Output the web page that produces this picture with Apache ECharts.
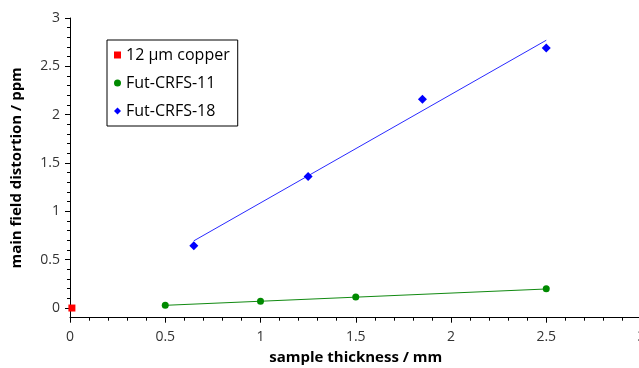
<!DOCTYPE html>
<html>
<head>
<meta charset="utf-8">
<script src="https://cdn.jsdelivr.net/npm/echarts@6/dist/echarts.min.js"></script>
<style>html,body{margin:0;padding:0;background:#fff;}#c{width:639px;height:368px;}</style>
</head>
<body>
<div id="c"></div>
<script>
// Data
const copperX = [0.01];
const copperY = [0.0];
const crfs11X = [0.5, 1.0, 1.5, 2.5];
const crfs11Y = [0.03, 0.07, 0.115, 0.2];
const crfs18X = [0.65, 1.25, 1.85, 2.5];
const crfs18Y = [0.645, 1.36, 2.16, 2.69];
const fit11X = [0.5, 2.5];
const fit11Y = [0.028, 0.197];
const fit18X = [0.65, 2.5];
const fit18Y = [0.695, 2.77];
const yMajorTicks = [0, 0.5, 1, 1.5, 2, 2.5, 3];
const yMinorTicks = [0.1,0.2,0.3,0.4,0.6,0.7,0.8,0.9,1.1,1.2,1.3,1.4,1.6,1.7,1.8,1.9,2.1,2.2,2.3,2.4,2.6,2.7,2.8,2.9];

const zip = (xs, ys) => xs.map((x, i) => [x, ys[i]]);
const FONT = '"Open Sans", "Noto Sans", sans-serif';

const chart = echarts.init(document.getElementById('c'), null, {renderer: 'canvas'});
chart.setOption({
  animation: false,
  backgroundColor: '#fff',
  textStyle: {fontFamily: FONT},
  grid: {left: 70, top: 18, right: -2.5, bottom: 50.3, containLabel: false, outerBoundsMode: 'none'},
  legend: {
    orient: 'vertical',
    left: 107, top: 40,
    padding: [7, 8, 7, 7],
    borderColor: '#000', borderWidth: 1,
    itemGap: 12,
    itemWidth: 7, itemHeight: 7,
    textStyle: {fontSize: 16, color: '#000', fontFamily: FONT},
    data: [
      {name: '12 µm copper', icon: 'rect', itemStyle: {color: '#ff0000'}},
      {name: 'Fut-CRFS-11', icon: 'circle', itemStyle: {color: '#008a00'}},
      {name: 'Fut-CRFS-18', icon: 'diamond', itemStyle: {color: '#0000ff'}}
    ]
  },
  xAxis: {
    type: 'value', min: 0, max: 3, interval: 0.5,
    axisLine: {onZero: false, lineStyle: {color: '#000', width: 1}},
    axisTick: {show: true, length: 5, inside: false, lineStyle: {color: '#000'}},
    minorTick: {show: true, splitNumber: 5, length: 3, lineStyle: {color: '#000'}},
    splitLine: {show: false},
    axisLabel: {fontSize: 14, color: '#333', margin: 12, fontFamily: FONT, showMaxLabel: true},
    name: 'sample thickness / mm', nameLocation: 'middle', nameGap: 33,
    nameTextStyle: {fontSize: 15, fontWeight: 'bold', color: '#000', fontFamily: FONT}
  },
  yAxis: [{
    type: 'value', min: -0.1, max: 3,
    axisLine: {show: true, lineStyle: {color: '#000', width: 1}},
    axisTick: {show: true, length: 5, customValues: yMajorTicks, lineStyle: {color: '#000'}},
    splitLine: {show: false},
    axisLabel: {fontSize: 14, color: '#333', margin: 10, customValues: yMajorTicks, fontFamily: FONT},
    name: 'main field distortion / ppm', nameLocation: 'middle', nameGap: 46,
    nameTextStyle: {fontSize: 15, fontWeight: 'bold', color: '#000', fontFamily: FONT}
  }, {
    type: 'value', min: -0.1, max: 3, position: 'left',
    axisLine: {show: false},
    axisTick: {show: true, length: 3, customValues: yMinorTicks, lineStyle: {color: '#000'}},
    axisLabel: {show: false},
    splitLine: {show: false}
  }],
  series: [
    {name: 'fit11', type: 'line', data: zip(fit11X, fit11Y), symbol: 'none',
     lineStyle: {color: '#118a11', width: 1}, z: 2},
    {name: 'fit18', type: 'line', data: zip(fit18X, fit18Y), symbol: 'none',
     lineStyle: {color: '#2a2aff', width: 1}, z: 2},
    {name: '12 µm copper', type: 'scatter', data: zip(copperX, copperY), symbol: 'rect', symbolSize: 7,
     itemStyle: {color: '#ff0000', opacity: 1}, z: 3},
    {name: 'Fut-CRFS-11', type: 'scatter', data: zip(crfs11X, crfs11Y), symbol: 'circle', symbolSize: 7,
     itemStyle: {color: '#008a00', opacity: 1}, z: 3},
    {name: 'Fut-CRFS-18', type: 'scatter', data: zip(crfs18X, crfs18Y), symbol: 'diamond', symbolSize: 9,
     itemStyle: {color: '#0000ff', opacity: 1}, z: 3}
  ]
});
</script>
</body>
</html>
